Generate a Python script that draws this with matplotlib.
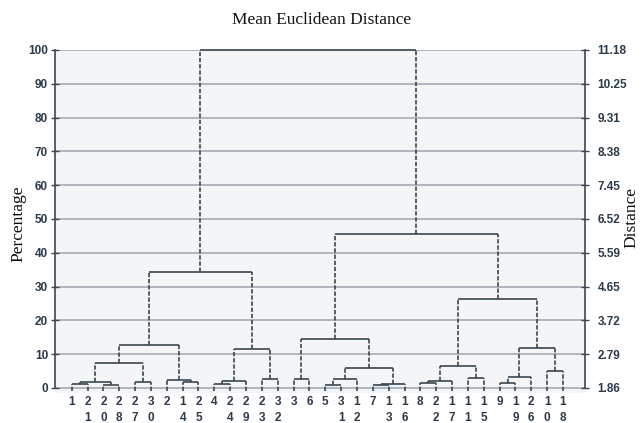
import matplotlib
matplotlib.use("Agg")
import matplotlib.pyplot as plt

# leaf order (left to right)
leaf_labels = ["1", "21", "20", "28", "27", "30", "2", "14", "25", "4", "24",
               "29", "23", "32", "3", "6", "5", "31", "12", "7", "13", "16",
               "8", "22", "17", "11", "15", "9", "19", "26", "10", "18"]

# merges: node ids < 32 are leaves, node 32 + k is the k-th merge
merge_left = [0, 2, 32, 4, 34, 7, 6, 36, 9, 40, 12, 41, 39,
              14, 16, 46, 19, 48, 47, 45, 22, 52, 25, 53, 27, 56, 30, 57, 55, 51, 44]
merge_right = [1, 3, 33, 5, 35, 8, 37, 38, 10, 11, 13, 42, 43,
               15, 17, 18, 20, 21, 49, 50, 23, 24, 26, 54, 28, 29, 31, 58, 59, 60, 61]
merge_height = [1.2, 1.0, 1.8, 1.8, 7.3, 1.9, 2.3, 12.7, 1.3, 2.1, 2.8, 11.5, 34.2,
                2.8, 0.9, 2.7, 0.9, 1.3, 6.0, 14.4, 1.4, 2.2, 3.0, 6.6, 1.4, 3.3, 4.9,
                11.7, 26.3, 45.7, 100.0]

pct_ticks = [0, 10, 20, 30, 40, 50, 60, 70, 80, 90, 100]
dist_ticks = ["1.86", "2.79", "3.72", "4.65", "5.59", "6.52", "7.45", "8.38",
              "9.31", "10.25", "11.18"]

line_col = "#3a4751"
text_col = "#2b3a4a"
grid_col = "#a9b1b8"
leaf_base = -0.9

fig = plt.figure(figsize=(6.44, 4.23), dpi=100)
ax = fig.add_axes([0.0854, 0.0708, 0.823, 0.811])
ax.set_facecolor("#f3f5f7")
ax.set_xlim(-1.054, 32.39)
ax.set_ylim(-1.5, 100)

# grid lines
for t in pct_ticks:
    ax.axhline(t, color=grid_col, lw=1.3, zorder=1)

# node positions
xs = {i: float(i) for i in range(len(leaf_labels))}
hs = {i: leaf_base for i in range(len(leaf_labels))}
n = len(leaf_labels)
for k, (a, b, h) in enumerate(zip(merge_left, merge_right, merge_height)):
    for c in (a, b):
        ax.plot([xs[c], xs[c]], [hs[c], h], color=line_col, lw=1.2,
                linestyle=(0, (2.6, 1.1)), zorder=3, clip_on=False)
    ax.plot([xs[a], xs[b]], [h, h], color=line_col, lw=1.2, zorder=3,
            clip_on=False, solid_capstyle="butt")
    xs[n + k] = (xs[a] + xs[b]) / 2
    hs[n + k] = h

tick_font = dict(family="Liberation Sans", weight="bold", size=8.5, color=text_col)

ax.set_yticks(pct_ticks)
ax.set_yticklabels([str(t) for t in pct_ticks], **tick_font)
ax.set_xticks(range(n))
ax.set_xticklabels(["\n".join(lb) for lb in leaf_labels], linespacing=1.5,
                   va="top", **tick_font)
ax.tick_params(axis="x", length=0, pad=2)
ax.tick_params(axis="y", direction="inout", length=6, width=1, color=line_col, pad=2)

for s in ["top", "bottom", "right"]:
    ax.spines[s].set_visible(False)
ax.spines["left"].set_bounds(0, 100)
ax.spines["left"].set_color(line_col)
ax.spines["left"].set_linewidth(1.2)

ax2 = ax.twinx()
ax2.set_ylim(ax.get_ylim())
ax2.set_yticks(pct_ticks)
ax2.set_yticklabels(dist_ticks, **tick_font)
ax2.tick_params(axis="y", direction="inout", length=6, width=1, color=line_col, pad=6)
for s in ["top", "bottom", "left"]:
    ax2.spines[s].set_visible(False)
ax2.spines["right"].set_bounds(0, 100)
ax2.spines["right"].set_color(line_col)
ax2.spines["right"].set_linewidth(1.2)

serif = "Liberation Serif"
fig.text(0.5, 0.952, "Mean Euclidean Distance", ha="center", va="center",
         family=serif, size=12.5, color="#111111")
fig.text(0.028, 0.47, "Percentage", rotation=90, ha="center", va="center",
         family=serif, size=12.5, color="#111111")
fig.text(0.981, 0.485, "Distance", rotation=90, ha="center", va="center",
         family=serif, size=12.5, color="#111111")

fig.savefig("out.png", dpi=100, facecolor="white")
